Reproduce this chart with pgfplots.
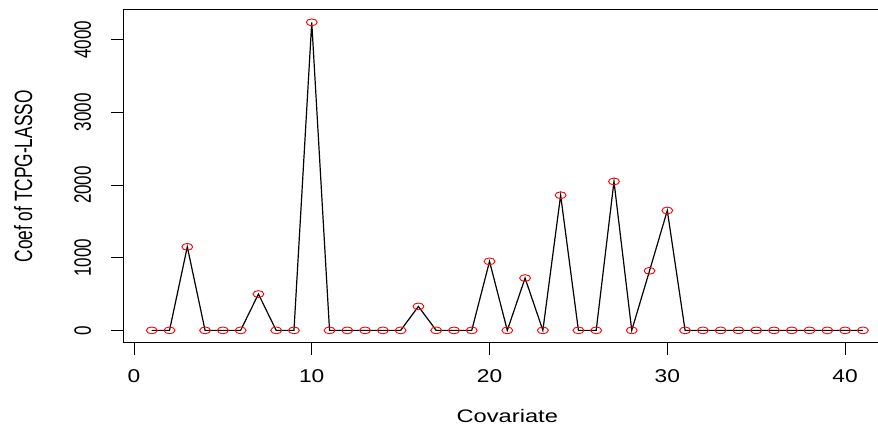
\documentclass[border=0pt]{standalone}
\usepackage{fontspec}
\setmainfont{Liberation Sans}
\usepackage{pgfplots}
\usepackage{pgfplotstable}
\pgfplotsset{compat=1.18}
\pgfplotstableread{
x y
1 0
2 0
3 1150
4 0
5 0
6 0
7 500
8 0
9 0
10 4240
11 0
12 0
13 0
14 0
15 0
16 330
17 0
18 0
19 0
20 950
21 0
22 720
23 0
24 1860
25 0
26 0
27 2050
28 0
29 820
30 1650
31 0
32 0
33 0
34 0
35 0
36 0
37 0
38 0
39 0
40 0
41 0
}\coefdata
\begin{document}
\begin{tikzpicture}[x=1bp,y=1bp]
\clip (0,0) rectangle (878,428);
\begin{axis}[
  at={(123.3bp,85.3bp)}, anchor=south west,
  width=768bp, height=332.7bp, scale only axis,
  xmin=-0.6, xmax=42.6, ymin=-169.6, ymax=4409.6,
  xtick={0,10,20,30,40}, ytick={0,1000,2000,3000,4000},
  xtick pos=bottom, ytick pos=left, tick align=outside,
  major tick length=12bp,
  tick style={black, line width=0.9bp},
  axis line style={black, line width=1bp},
  scaled ticks=false,
  font=\fontsize{18.5bp}{22bp}\selectfont,
  xticklabel={\scalebox{1.23}[1]{\pgfmathprintnumber[assume math mode=true,1000 sep={}]{\tick}}},
  yticklabel={\scalebox{0.92}[1.28]{\pgfmathprintnumber[assume math mode=true,1000 sep={}]{\tick}}},
  xticklabel style={anchor=north, inner sep=0pt, yshift=-15bp},
  yticklabel style={xshift=-20bp, rotate=90, anchor=south, inner sep=0pt},
  xlabel={\scalebox{1.28}[0.98]{Covariate}},
  ylabel={\scalebox{0.935}[1.35]{Coef of TCPG-LASSO}},
  xlabel style={at={(axis description cs:0.5,-0.2203)}, anchor=center, inner sep=0pt},
  ylabel style={at={(axis description cs:-0.1302,0.5)}, anchor=center, inner sep=0pt},
]
\addplot[only marks, mark=o, red, mark size=3.4bp, mark options={xscale=1.6, line width=0.9bp}] table[x=x,y=y] {\coefdata};
\addplot[black, line width=1.2bp, mark=none] table[x=x,y=y] {\coefdata};
\end{axis}
\end{tikzpicture}
\end{document}
